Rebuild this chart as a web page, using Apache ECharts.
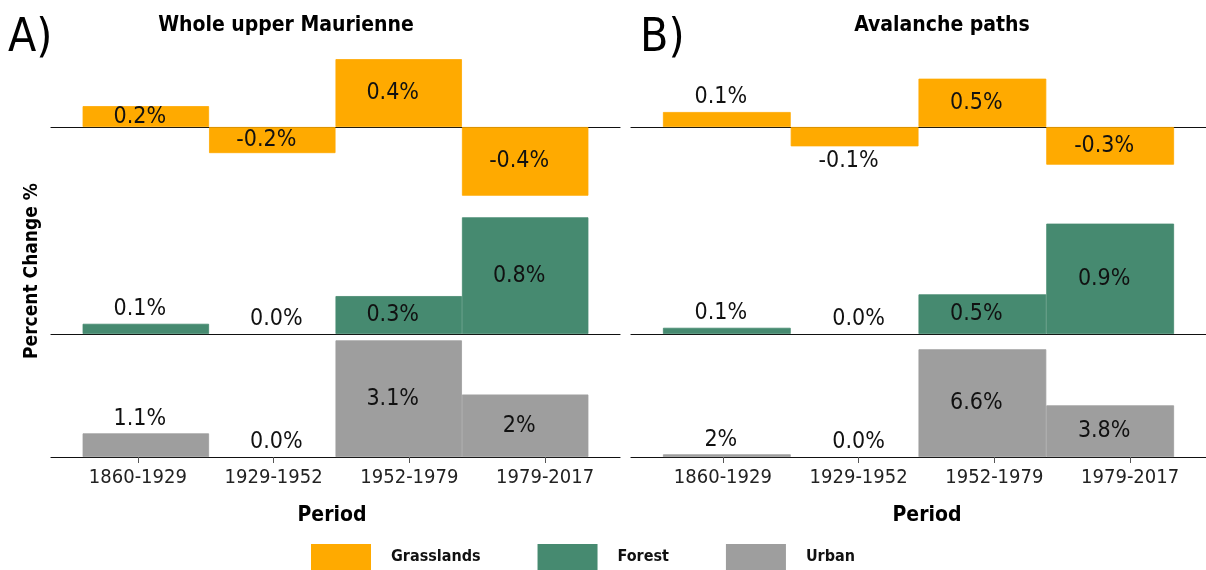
<!DOCTYPE html>
<html>
<head>
<meta charset="utf-8">
<title>Percent change by period</title>
<script src="https://cdn.jsdelivr.net/npm/echarts@6/dist/echarts.min.js"></script>
<style>
  html, body { margin: 0; padding: 0; background: #fff; }
  #chart { width: 1206px; height: 570px; }
</style>
</head>
<body>
<div id="chart"></div>
<script>
// periods on the x axis
const periods = ['1860-1929', '1929-1952', '1952-1979', '1979-2017'];
const landCovers = ['Grasslands', 'Forest', 'Urban'];

// bar heights (A = whole upper Maurienne, B = avalanche paths)
const grassA = [0.12, -0.15, 0.39, -0.395];
const forestA = [0.07, 0, 0.26, 0.8];
const urbanA = [0.62, 0, 3.06, 1.64];
const grassB = [0.155, -0.2, 0.5, -0.39];
const forestB = [0.05, 0, 0.32, 0.89];
const urbanB = [0.16, 0, 6.36, 3.05];

// printed labels on the bars
const grassLabA = ['0.2%', '-0.2%', '0.4%', '-0.4%'];
const forestLabA = ['0.1%', '0.0%', '0.3%', '0.8%'];
const urbanLabA = ['1.1%', '0.0%', '3.1%', '2%'];
const grassLabB = ['0.1%', '-0.1%', '0.5%', '-0.3%'];
const forestLabB = ['0.1%', '0.0%', '0.5%', '0.9%'];
const urbanLabB = ['2%', '0.0%', '6.6%', '3.8%'];

const FONT = '"DejaVu Sans Condensed", "DejaVu Sans", sans-serif';
const colors = { Grasslands: '#FFAA00', Forest: '#468A70', Urban: '#9E9E9E' };

// vertical layout of the three rows
const rowBox = [
    { top: 40, height: 174 },
    { top: 210, height: 124 },
    { top: 335, height: 122 }
];

const inner = ['inside', 'inside', 'inside', 'inside'];
const lowTwo = ['top', 'top', 'inside', 'inside'];

const panels = [
    {
        left: 51, width: 569, tickLeft: 70,
        rows: [
            { name: 'Grasslands', values: grassA, labels: grassLabA, place: inner, min: -0.5, max: 0.5 },
            { name: 'Forest', values: forestA, labels: forestLabA, place: lowTwo, min: 0, max: 0.85 },
            { name: 'Urban', values: urbanA, labels: urbanLabA, place: lowTwo, min: 0, max: 3.2 }
        ]
    },
    {
        left: 631, width: 580, tickLeft: 655,
        rows: [
            { name: 'Grasslands', values: grassB, labels: grassLabB, place: ['top', 'bottom', 'inside', 'inside'], min: -0.9, max: 0.9 },
            { name: 'Forest', values: forestB, labels: forestLabB, place: lowTwo, min: 0, max: 1.0 },
            { name: 'Urban', values: urbanB, labels: urbanLabB, place: lowTwo, min: 0, max: 7.2 }
        ]
    }
];

const grid = [], xAxis = [], yAxis = [], series = [];

panels.forEach(p => {
    p.rows.forEach((r, ri) => {
        const k = grid.length;
        grid.push({ left: p.left, width: p.width, top: rowBox[ri].top, height: rowBox[ri].height });
        xAxis.push({
            type: 'value', gridIndex: k, min: 0.25, max: 4.75,
            axisLine: { show: true, onZero: true, lineStyle: { color: '#111', width: 1.2 } },
            axisTick: { show: false }, axisLabel: { show: false }, splitLine: { show: false }
        });
        yAxis.push({ type: 'value', gridIndex: k, min: r.min, max: r.max, show: false });
        series.push({
            name: r.name,
            type: 'bar',
            xAxisIndex: k,
            yAxisIndex: k,
            barWidth: '100%',
            itemStyle: { color: colors[r.name] },
            label: {
                show: true, color: '#111', fontFamily: FONT, fontSize: 23
            },
            data: r.values.map((v, i) => ({
                value: [i + 1, v],
                // thin border in the fill colour hides the seam between touching bars
                itemStyle: { borderColor: colors[r.name], borderWidth: v === 0 ? 0 : 0.8 },
                label: {
                    formatter: r.labels[i],
                    position: r.place[i],
                    distance: 3,
                    offset: [r.labels[i] === '0.0%' ? 4 : -6, 0]
                }
            }))
        });
    });
});

// separate axes carrying the period ticks and labels
panels.forEach(p => {
    const k = grid.length;
    grid.push({ left: p.tickLeft, width: 543, top: 456, height: 1 });
    xAxis.push({
        type: 'category', gridIndex: k, data: periods,
        axisLine: { show: false },
        axisTick: { show: true, alignWithLabel: true, length: 6, lineStyle: { color: '#555' } },
        axisLabel: { margin: 11, color: '#222', fontFamily: FONT, fontSize: 20 }
    });
    yAxis.push({ type: 'value', gridIndex: k, show: false });
});

function txt(x, y, text, size, weight, align, extra) {
    return Object.assign({
        type: 'text', x: x, y: y,
        style: {
            text: text, fill: '#000', font: weight + ' ' + size + 'px ' + FONT,
            textAlign: align, textVerticalAlign: 'middle'
        }
    }, extra || {});
}

const chart = echarts.init(document.getElementById('chart'));
chart.setOption({
    animation: false,
    grid: grid,
    xAxis: xAxis,
    yAxis: yAxis,
    series: series,
    legend: {
        data: landCovers,
        left: 311, top: 544, padding: 0,
        icon: 'rect', itemWidth: 60, itemHeight: 26, itemGap: 57,
        textStyle: { fontFamily: FONT, fontWeight: 'bold', fontSize: 16, color: '#111', padding: [0, 0, 0, 15] }
    },
    graphic: [
        txt(8, 39, 'A)', 46, 'normal', 'left'),
        txt(640, 39, 'B)', 46, 'normal', 'left'),
        txt(286, 26, 'Whole upper Maurienne', 21, 'bold', 'center'),
        txt(942, 26, 'Avalanche paths', 21, 'bold', 'center'),
        txt(332, 516, 'Period', 21, 'bold', 'center'),
        txt(927, 516, 'Period', 21, 'bold', 'center'),
        txt(32, 271, 'Percent Change %', 19, 'bold', 'center', { rotation: Math.PI / 2 })
    ]
});
</script>
</body>
</html>
